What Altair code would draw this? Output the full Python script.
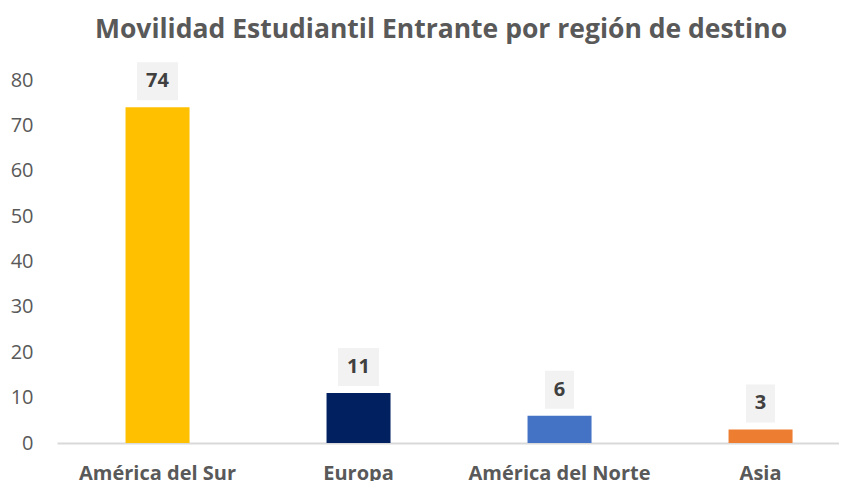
import altair as alt
import pandas as pd

categories = ["América del Sur", "Europa", "América del Norte", "Asia"]
values = [74, 11, 6, 3]
colors = ["#FFC000", "#002060", "#4472C4", "#ED7D31"]
y_ticks = [0, 10, 20, 30, 40, 50, 60, 70, 80]
title_text = "Movilidad Estudiantil Entrante por región de destino"

df = pd.DataFrame({"region": categories, "value": values})
df["digits"] = df["value"].astype(str).str.len()

FONT = "Open Sans"

x_enc = alt.X(
    "region:N",
    sort=categories,
    scale=alt.Scale(paddingInner=0.6816, paddingOuter=0.286, align=0.596),
    axis=alt.Axis(
        title=None,
        labelAngle=0,
        ticks=False,
        domain=True,
        domainColor="#D9D9D9",
        domainWidth=2,
        labelFont=FONT,
        labelFontSize=20,
        labelFontWeight="bold",
        labelColor="#595959",
        labelPadding=20,
        labelLimit=0,
    ),
)
y_enc = alt.Y(
    "value:Q",
    scale=alt.Scale(domain=[0, 80], nice=False),
    axis=alt.Axis(
        title=None,
        values=y_ticks,
        grid=False,
        domain=False,
        ticks=False,
        labelFont=FONT,
        labelFontSize=20,
        labelColor="#595959",
        labelPadding=24,
    ),
)

base = alt.Chart(df).encode(x=x_enc)

bars = base.mark_bar().encode(
    y=y_enc,
    color=alt.Color("region:N", scale=alt.Scale(domain=categories, range=colors), legend=None),
)

box2 = base.transform_filter("datum.digits >= 2").mark_bar(
    width=41, color="#F2F2F2", yOffset=-7, y2Offset=-45
).encode(y=alt.Y("value:Q"), y2=alt.Y2("value:Q"))

box1 = base.transform_filter("datum.digits < 2").mark_bar(
    width=29, color="#F2F2F2", yOffset=-7, y2Offset=-45
).encode(y=alt.Y("value:Q"), y2=alt.Y2("value:Q"))

labels = base.mark_text(
    dy=-26, baseline="middle", font=FONT, fontSize=20, fontWeight="bold", color="#404040"
).encode(y=alt.Y("value:Q"), text=alt.Text("value:Q"))

chart = alt.layer(bars, box2, box1, labels).properties(
    width=782,
    height=363,
    autosize=alt.AutoSizeParams(type="none"),
    padding={"left": 49, "top": 72, "right": 0, "bottom": 45},
    title=alt.TitleParams(
        text=title_text,
        font=FONT,
        fontSize=26.5,
        fontWeight="bold",
        color="#595959",
        anchor="middle",
        frame="group",
        dx=-7,
        dy=32,
        baseline="alphabetic",
        offset=30,
    ),
).configure_view(stroke=None)

chart.save("out.html", embed_options={"renderer": "svg", "actions": False})
